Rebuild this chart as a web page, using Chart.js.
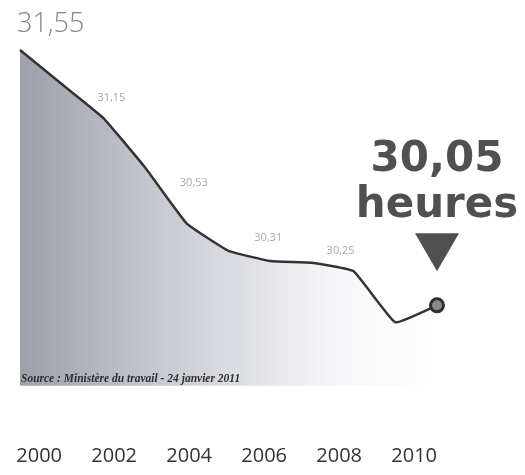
<!DOCTYPE html>
<html>
<head>
<meta charset="utf-8">
<script src="https://cdn.jsdelivr.net/npm/chart.js@4"></script>
<style>
  body { margin: 0; background: #fff; }
  #wrap { width: 525px; height: 475px; position: relative; }
</style>
</head>
<body>
<div id="wrap"><canvas id="chart"></canvas></div>
<script>
// weekly working hours, 2000-2010
const years = [2000, 2001, 2002, 2003, 2004, 2005, 2006, 2007, 2008, 2009, 2010];
const hours = [31.55, 31.35, 31.15, 30.86, 30.53, 30.37, 30.31, 30.30, 30.25, 29.95, 30.05];
const labelledYears = [2002, 2004, 2006, 2008];
const tickYears = [2000, 2002, 2004, 2006, 2008, 2010];
const unitText = "heures";
const sourceText = "Source : Ministère du travail - 24 janvier 2011";

// grey area stops here, the year labels sit further below
const fillFloor = 29.577;

function fmt(v) { return v.toFixed(2).replace(".", ","); }

// text bits drawn on top of the chart
const annotations = {
  id: "annotations",
  afterDatasetsDraw(chart) {
    const ctx = chart.ctx;
    const xs = chart.scales.x, ys = chart.scales.y;
    ctx.save();

    // first value, big light label
    let x0 = xs.getPixelForValue(years[0]), y0 = ys.getPixelForValue(hours[0]);
    ctx.fillStyle = "#858585";
    ctx.font = "300 27px 'Open Sans'";
    ctx.textAlign = "left";
    ctx.textBaseline = "alphabetic";
    ctx.fillText(fmt(hours[0]), x0 - 3, y0 - 18);

    // small value labels along the line
    const offsets = { 2002: [8, -20], 2004: [7, -41], 2006: [-2, -23], 2008: [-13, -20] };
    ctx.font = "11px 'Open Sans'";
    ctx.fillStyle = "#a8a8a8";
    ctx.textAlign = "center";
    ctx.textBaseline = "middle";
    labelledYears.forEach(yr => {
      const i = years.indexOf(yr);
      const o = offsets[yr] || [0, -20];
      ctx.fillText(fmt(hours[i]), xs.getPixelForValue(yr) + o[0], ys.getPixelForValue(hours[i]) + o[1]);
    });

    // last value callout
    const n = hours.length - 1;
    const xl = xs.getPixelForValue(years[n]), yl = ys.getPixelForValue(hours[n]);
    ctx.fillStyle = "#505050";
    ctx.font = "bold 42px 'DejaVu Sans'";
    ctx.textBaseline = "alphabetic";
    ctx.fillText(fmt(hours[n]), xl, yl - 134);
    ctx.fillText(unitText, xl, yl - 88);

    // down arrow
    ctx.beginPath();
    ctx.moveTo(xl - 22, yl - 72);
    ctx.lineTo(xl + 22, yl - 72);
    ctx.lineTo(xl, yl - 34);
    ctx.closePath();
    ctx.fill();

    // source
    ctx.font = "italic bold 11.5px 'Liberation Serif'";
    ctx.fillStyle = "#2e2e2e";
    ctx.textAlign = "left";
    ctx.textBaseline = "middle";
    ctx.fillText(sourceText, x0 + 1, ys.getPixelForValue(fillFloor) - 7);

    ctx.restore();
  }
};

const ctx = document.getElementById("chart").getContext("2d");
new Chart(ctx, {
  type: "line",
  data: {
    datasets: [{
      data: years.map((y, i) => ({ x: y, y: hours[i] })),
      borderColor: "#333",
      borderWidth: 2.5,
      tension: 0.1,
      clip: false,
      fill: { value: fillFloor },
      backgroundColor: c => {
        const a = c.chart.chartArea;
        if (!a) return "#ccc";
        const g = c.chart.ctx.createLinearGradient(a.left, 0, a.right, 0);
        g.addColorStop(0, "#9ea0a8");
        g.addColorStop(0.35, "#c9cbd2");
        g.addColorStop(0.75, "#f6f6f8");
        g.addColorStop(1, "#ffffff");
        return g;
      },
      pointRadius: c => c.dataIndex === hours.length - 1 ? 6.5 : 0,
      pointBackgroundColor: "#8a8a8a",
      pointBorderColor: "#2e2e2e",
      pointBorderWidth: 3
    }]
  },
  options: {
    responsive: true,
    maintainAspectRatio: false,
    animation: false,
    layout: { padding: { left: 20, right: 88, top: 50, bottom: 0 } },
    plugins: { legend: { display: false }, tooltip: { enabled: false } },
    scales: {
      x: { type: "linear", display: false, min: 2000, max: 2010 },
      y: { display: false, min: 29.2765, max: 31.55 },
      years: {
        type: "linear",
        position: "bottom",
        min: 1999.49,
        max: 2010.61,
        grid: { display: false, drawTicks: false },
        border: { display: false },
        afterBuildTicks: s => { s.ticks = tickYears.map(v => ({ value: v })); },
        ticks: {
          padding: 7,
          color: "#333",
          font: { family: "'Open Sans'", size: 20 },
          callback: v => String(v)
        }
      }
    }
  },
  plugins: [annotations]
});
</script>
</body>
</html>
